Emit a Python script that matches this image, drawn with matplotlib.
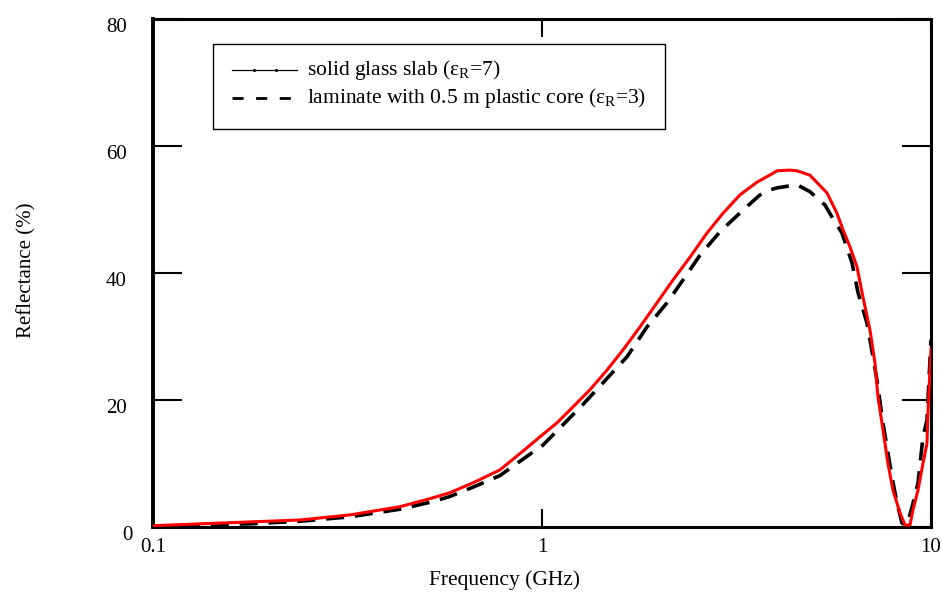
import matplotlib
matplotlib.use("Agg")
import matplotlib.pyplot as plt
from matplotlib.patches import Rectangle
from matplotlib.transforms import ScaledTranslation

plt.rcParams["font.family"] = ["Liberation Serif", "DejaVu Serif"]
plt.rcParams["mathtext.fontset"] = "custom"
plt.rcParams["mathtext.rm"] = "Liberation Serif"
plt.rcParams["mathtext.it"] = "Liberation Serif:italic"

# Solid glass slab (eps_R = 7): frequency in GHz, reflectance in %
glass_freq = [0.100, 0.178, 0.239, 0.321, 0.432, 0.525, 0.580, 0.673, 0.780,
              0.904, 0.988, 1.093, 1.201, 1.328, 1.469, 1.616, 1.786, 1.975,
              2.172, 2.402, 2.656, 2.920, 3.228, 3.571, 3.925, 4.020, 4.340,
              4.520, 4.886, 5.404, 5.733, 5.940, 6.192, 6.452, 6.686, 6.970,
              7.178, 7.307, 7.526, 7.752, 7.985, 8.324, 8.575, 8.831, 8.990,
              9.260, 9.537, 9.766, 9.824, 10.00]
glass_refl = [0.2, 0.8, 1.1, 1.9, 3.2, 4.6, 5.4, 7.1, 9.0,
              12.2, 14.2, 16.4, 18.9, 21.6, 24.7, 27.9, 31.5, 35.3,
              38.9, 42.5, 46.3, 49.4, 52.3, 54.3, 55.7, 56.1, 56.2,
              56.1, 55.4, 52.6, 49.4, 46.8, 44.1, 41.0, 36.2, 31.0,
              25.8, 20.5, 15.3, 10.0, 5.8, 2.2, 0.3, 0.3, 2.7,
              5.8, 10.0, 13.2, 18.0, 28.0]

# Laminate with 0.5 m plastic core (eps_R = 3)
lam_freq = [0.100, 0.178, 0.239, 0.321, 0.432, 0.525, 0.580, 0.673, 0.780,
            0.904, 1.006, 1.275, 1.654, 1.862, 2.096, 2.304, 2.548, 2.869,
            3.286, 3.635, 3.857, 4.019, 4.523, 4.886, 5.340, 5.567, 5.904,
            6.267, 6.493, 6.847, 7.094, 7.264, 7.526, 7.707, 7.937, 8.176,
            8.424, 8.677, 8.936, 9.260, 9.537, 9.766, 10.00]
lam_refl = [0.1, 0.5, 0.9, 1.6, 2.8, 4.0, 4.8, 6.4, 8.1,
            10.9, 12.9, 19.3, 26.8, 31.5, 35.3, 38.9, 42.8, 46.5,
            49.9, 52.3, 53.1, 53.4, 53.9, 52.8, 50.7, 48.8, 46.3,
            41.6, 36.9, 32.1, 26.8, 23.1, 16.4, 12.6, 7.9, 3.8,
            0.6, 0.3, 3.1, 6.9, 14.2, 16.8, 29.5]

x_ticks = [0.1, 1, 10]
x_tick_labels = ["0.1", "1", "10"]
y_ticks = [0, 20, 40, 60, 80]
y_tick_labels = ["0", "20", "40", "60", "80"]

fig = plt.figure(figsize=(9.42, 5.97), dpi=100)
ax = fig.add_axes([0.1624, 0.1173, 0.8259, 0.8509])

ax.plot(lam_freq, lam_refl, color="black", lw=2.6, dashes=(5, 3), zorder=2)
ax.plot(glass_freq, glass_refl, color="#ff0000", lw=2.2, zorder=3)

ax.set_xscale("log")
ax.set_xlim(0.1, 10)
ax.set_ylim(0, 80)
ax.set_xticks(x_ticks)
ax.set_xticklabels(x_tick_labels)
ax.xaxis.set_minor_locator(matplotlib.ticker.NullLocator())
ax.set_yticks(y_ticks)
ax.set_yticklabels(y_tick_labels)

for sp in ax.spines.values():
    sp.set_linewidth(2.2)
ax.spines["left"].set_linewidth(2.8)

ax.tick_params(axis="y", direction="in", length=21, width=1.5,
               left=True, right=True, labelsize=15, pad=19)
ax.tick_params(axis="x", direction="in", length=13, width=1.5,
               bottom=True, top=True, labelsize=15, pad=8)

# nudge the y tick labels down a little and the zero label right
for lbl in ax.get_yticklabels():
    dx = 4 / 72 if lbl.get_text() == "0" else 0
    lbl.set_transform(lbl.get_transform() +
                      ScaledTranslation(dx, -4 / 72, fig.dpi_scale_trans))

ax.set_ylabel("Reflectance (%)", fontsize=15)
ax.yaxis.set_label_coords(-0.150, 0.506)
ax.set_xlabel("Frequency (GHz)", fontsize=15.5)
ax.xaxis.set_label_coords(0.452, -0.085)

# legend box
box = Rectangle((0.0771, 0.7835), 0.5810, 0.1673, transform=ax.transAxes,
                facecolor="white", edgecolor="black", lw=1.0, zorder=5)
ax.add_patch(box)
ax.plot([0.1015, 0.130, 0.158, 0.185], [0.8996] * 4, transform=ax.transAxes,
        color="black", lw=0.9, marker=".", ms=2.5, markevery=[1, 2], zorder=6)
ax.plot([0.1015, 0.185], [0.8445] * 2, transform=ax.transAxes,
        color="black", lw=2.0, dashes=(4, 4.5), zorder=6)
ax.text(0.198, 0.8996, "solid glass slab ($\\mathregular{ε_R}$=7)",
        transform=ax.transAxes, fontsize=15.5, va="center", ha="left", zorder=6)
ax.text(0.198, 0.8445, "laminate with 0.5 m plastic core ($\\mathregular{ε_R}$=3)",
        transform=ax.transAxes, fontsize=15.5, va="center", ha="left", zorder=6)

fig.savefig("out.png", dpi=100)
